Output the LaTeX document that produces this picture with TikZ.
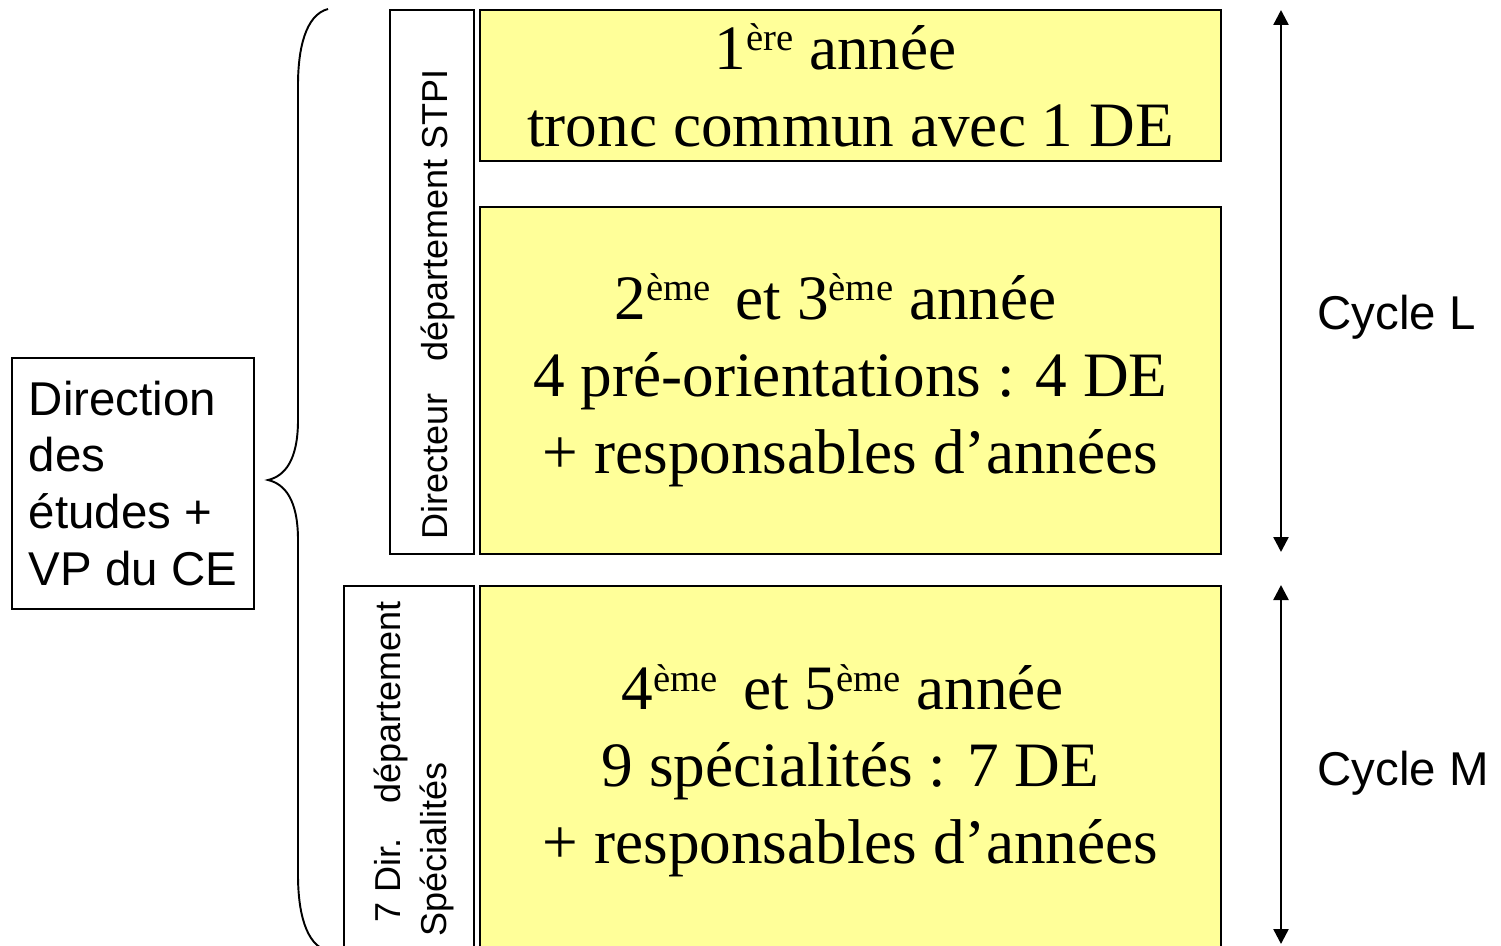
\documentclass[tikz,border=0pt]{standalone}
\usepackage{fontspec}
\setmainfont{Liberation Serif}
\setsansfont{Liberation Sans}
\usetikzlibrary{arrows.meta}
\definecolor{paleyellow}{HTML}{FFFF99}

\begin{document}
\begin{tikzpicture}[x=0.02cm,y=-0.02cm]
	\tikzset{%
		yearbox/.style={draw,line width=1.1pt,fill=paleyellow,anchor=north west,inner sep=0pt,align=center,font=\fontsize{36}{43.8}\selectfont},
		dirbox/.style={draw,line width=1.1pt,anchor=north west,inner sep=0pt},
		vlabel/.style={rotate=90,inner sep=0pt,align=left,font=\sffamily\fontsize{20.5}{26}\selectfont},
		cyclelabel/.style={anchor=base west,inner sep=0pt,font=\sffamily\fontsize{27}{32.4}\selectfont},
		cyclearrow/.style={{Triangle[length=0.3cm,width=0.3cm]}-{Triangle[length=0.3cm,width=0.3cm]},line width=1.4pt},
	}

	\def\px{0.02cm}
	\def\blkw{741}
	\newcommand*{\expo}[1]{\raisebox{10.5pt}{\fontsize{22}{22}\selectfont #1}}

	\useasboundingbox (0,0) rectangle (1501,946);
	\clip (0,0) rectangle (1501,946);

	\node[dirbox,minimum width=242*\px,minimum height=251*\px,align=left,font=\sffamily\fontsize{27}{32.4}\selectfont] (direction) at (11,357) {Direction\\des\\études +\\VP du CE};

	% accolade
	\draw[line width=1.1pt] (328,9) .. controls (305,15) and (298,50) .. (298,85) -- (298,420)
		.. controls (298,460) and (285,476) .. (268,480) .. controls (285,484) and (298,500) .. (298,540)
		-- (298,875) .. controls (298,910) and (305,945) .. (328,951);

	\node[dirbox,minimum width=84*\px,minimum height=544*\px] (stpibox) at (389,9) {};
	\node[dirbox,minimum width=130*\px,minimum height=380*\px] (specbox) at (343,585) {};
	\node[vlabel,anchor=base west] (stpi) at (447,540) {Directeur\hspace{0.6em} département STPI};
	\node[vlabel,anchor=south west] (spec) at (454,937) {\hspace*{0.4em}7 Dir.\hspace{0.6em} département\\Spécialités};

	\node[yearbox,minimum width=\blkw*\px,minimum height=151*\px] (year1) at (479,9) {1\expo{ère} année\hspace*{0.6cm}\\tronc commun avec 1 DE};
	\node[yearbox,minimum width=\blkw*\px,minimum height=347*\px] (year23) at (479,206) {2\expo{ème}\hspace{0.4em}et 3\expo{ème} année\hspace*{0.6cm}\\4 pré-orientations : 4 DE\hspace*{0.3cm}\\+ responsables d’années};
	\node[yearbox,minimum width=\blkw*\px,minimum height=370*\px] (year45) at (479,585) {4\expo{ème}\hspace{0.4em}et 5\expo{ème} année\hspace*{0.3cm}\\9 spécialités : 7 DE\hspace*{0.3cm}\\+ responsables d’années};

	\coordinate (lTop) at (1281,10);
	\coordinate (lBot) at (1281,552);
	\coordinate (mTop) at (1281,585);
	\coordinate (mBot) at (1281,944);
	\draw[cyclearrow] (lTop) -- (lBot);
	\draw[cyclearrow] (mTop) -- (mBot);

	\node[cyclelabel] (cycleL) at (1317,329) {Cycle L};
	\node[cyclelabel] (cycleM) at (1317,785) {Cycle M};
\end{tikzpicture}
\end{document}
